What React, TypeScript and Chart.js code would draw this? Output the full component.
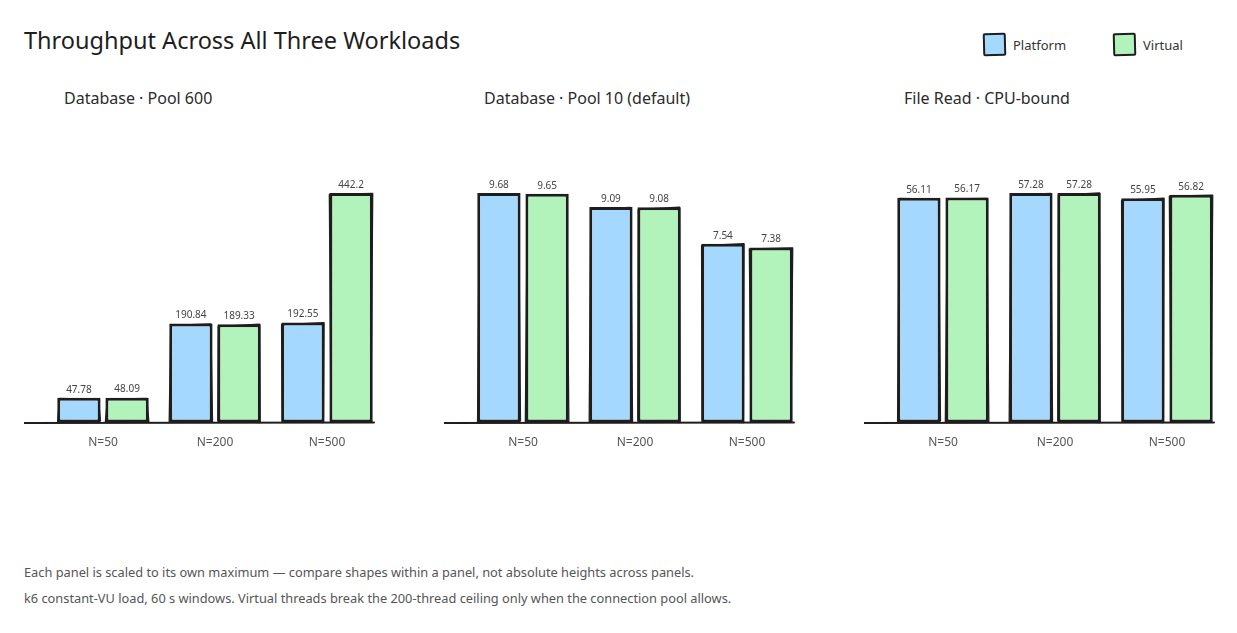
import { useEffect, useRef } from 'react';
import Chart, { ChartConfiguration, Plugin } from 'chart.js/auto';

const categories = ['N=50', 'N=200', 'N=500'];
const seriesNames = ['Platform', 'Virtual'];

const pool600Title = 'Database · Pool 600';
const pool600Platform = [47.78, 190.84, 192.55];
const pool600Virtual = [48.09, 189.33, 442.2];

const pool10Title = 'Database · Pool 10 (default)';
const pool10Platform = [9.68, 9.09, 7.54];
const pool10Virtual = [9.65, 9.08, 7.38];

const fileReadTitle = 'File Read · CPU-bound';
const fileReadPlatform = [56.11, 57.28, 55.95];
const fileReadVirtual = [56.17, 57.28, 56.82];

const chartTitle = 'Throughput Across All Three Workloads';
const footnotes = [
  'Each panel is scaled to its own maximum — compare shapes within a panel, not absolute heights across panels.',
  'k6 constant-VU load, 60 s windows. Virtual threads break the 200-thread ceiling only when the connection pool allows.',
];

const INK = '#1e1e1e';
const BLUE = '#a5d8ff';
const GREEN = '#b2f2bb';
const FONT = '"Noto Sans", sans-serif';

Chart.defaults.font.family = FONT;

// rough second stroke + value labels + hand-drawn baseline
const sketchPlugin: Plugin<'bar'> = {
  id: 'sketch',
  beforeDatasetsDraw(chart) {
    const { ctx, chartArea, scales } = chart;
    const y0 = scales.y.getPixelForValue(0);
    ctx.save();
    ctx.strokeStyle = INK;
    ctx.lineWidth = 2;
    ctx.lineCap = 'round';
    ctx.beginPath();
    ctx.moveTo(chartArea.left - 23, y0 + 0.5);
    ctx.lineTo(chartArea.right - 9, y0);
    ctx.stroke();
    ctx.restore();
  },
  afterDatasetsDraw(chart) {
    const { ctx } = chart;
    ctx.save();
    chart.data.datasets.forEach((ds, di) => {
      const meta = chart.getDatasetMeta(di);
      meta.data.forEach((el, i) => {
        const { x, y, base, width } = el.getProps(['x', 'y', 'base', 'width'], true) as any;
        const l = x - width / 2;
        const r = x + width / 2;
        const j = (k: number) => Math.sin((di * 7 + i * 3 + k) * 1.7) * 1.1;
        ctx.strokeStyle = INK;
        ctx.lineWidth = 1.3;
        ctx.lineJoin = 'round';
        ctx.beginPath();
        ctx.moveTo(l + 1 + j(1), y + 1 + j(2));
        ctx.lineTo(r - 1 + j(3), y + 1 + j(4));
        ctx.lineTo(r - 1 + j(5), base - 1 + j(6));
        ctx.lineTo(l + 1 + j(7), base - 1 + j(8));
        ctx.closePath();
        ctx.stroke();

        ctx.fillStyle = '#444';
        ctx.font = `10px ${FONT}`;
        ctx.textAlign = 'center';
        ctx.textBaseline = 'bottom';
        ctx.fillText(String(ds.data[i]), x, y - 3);
      });
    });
    ctx.restore();
  },
};

interface PanelProps {
  title: string;
  platform: number[];
  virtual: number[];
  left: number;
}

const Panel = ({ title, platform, virtual, left }: PanelProps) => {
  const canvasRef = useRef<HTMLCanvasElement>(null);
  const chartRef = useRef<Chart | null>(null);

  useEffect(() => {
    const context = canvasRef.current?.getContext('2d');
    if (!context) return;

    const config: ChartConfiguration<'bar'> = {
      type: 'bar',
      data: {
        labels: categories,
        datasets: [
          {
            label: seriesNames[0],
            data: platform,
            backgroundColor: BLUE,
            borderColor: INK,
            borderWidth: 3,
            borderSkipped: false,
            categoryPercentage: 0.86,
            barPercentage: 0.9,
          },
          {
            label: seriesNames[1],
            data: virtual,
            backgroundColor: GREEN,
            borderColor: INK,
            borderWidth: 3,
            borderSkipped: false,
            categoryPercentage: 0.86,
            barPercentage: 0.9,
          },
        ],
      },
      options: {
        animation: false,
        responsive: true,
        maintainAspectRatio: false,
        layout: { padding: { left: 23, right: 21, top: 43, bottom: 0 } },
        plugins: {
          legend: { display: false },
          tooltip: { enabled: false },
        },
        scales: {
          x: {
            grid: { display: false, drawTicks: false },
            border: { display: false },
            ticks: { color: '#555', font: { size: 12 }, padding: 13 },
          },
          y: {
            display: false,
            min: 0,
            max: Math.max(...platform, ...virtual),
          },
        },
      },
      plugins: [sketchPlugin],
    };

    chartRef.current?.destroy();
    chartRef.current = new Chart(context, config);

    return () => {
      chartRef.current?.destroy();
    };
  }, [platform, virtual]);

  return (
    <>
      <div
        style={{
          position: 'absolute',
          left: left + 40,
          top: 87,
          fontSize: 16,
          lineHeight: '22px',
          color: '#2b2b2b',
          whiteSpace: 'nowrap',
        }}
      >
        {title}
      </div>
      <div style={{ position: 'absolute', left, top: 150, width: 380, height: 313 }}>
        <canvas ref={canvasRef} />
      </div>
    </>
  );
};

const LegendItem = ({ label, color, left }: { label: string; color: string; left: number }) => (
  <div style={{ position: 'absolute', left, top: 33, display: 'flex', alignItems: 'center' }}>
    <div
      style={{
        width: 19,
        height: 19,
        background: color,
        border: `2.5px solid ${INK}`,
        borderRadius: 2,
        transform: 'rotate(-1.5deg)',
      }}
    />
    <span style={{ marginLeft: 7, fontSize: 13, color: '#333' }}>{label}</span>
  </div>
);

const App = () => (
  <div
    style={{
      position: 'fixed',
      left: 0,
      top: 0,
      width: 1237,
      height: 633,
      background: '#fff',
      fontFamily: FONT,
      overflow: 'hidden',
    }}
  >
    <div
      style={{
        position: 'absolute',
        left: 24,
        top: 24,
        fontSize: 23.5,
        lineHeight: '32px',
        color: INK,
        whiteSpace: 'nowrap',
      }}
    >
      {chartTitle}
    </div>
    <LegendItem label={seriesNames[0]} color={BLUE} left={983} />
    <LegendItem label={seriesNames[1]} color={GREEN} left={1113} />

    <Panel title={pool600Title} platform={pool600Platform} virtual={pool600Virtual} left={24} />
    <Panel title={pool10Title} platform={pool10Platform} virtual={pool10Virtual} left={444} />
    <Panel title={fileReadTitle} platform={fileReadPlatform} virtual={fileReadVirtual} left={864} />

    {footnotes.map((t, i) => (
      <div
        key={i}
        style={{
          position: 'absolute',
          left: 24,
          top: 563 + i * 26,
          fontSize: 12.8,
          lineHeight: '18px',
          color: '#555',
          whiteSpace: 'nowrap',
        }}
      >
        {t}
      </div>
    ))}
  </div>
);

export default App;
